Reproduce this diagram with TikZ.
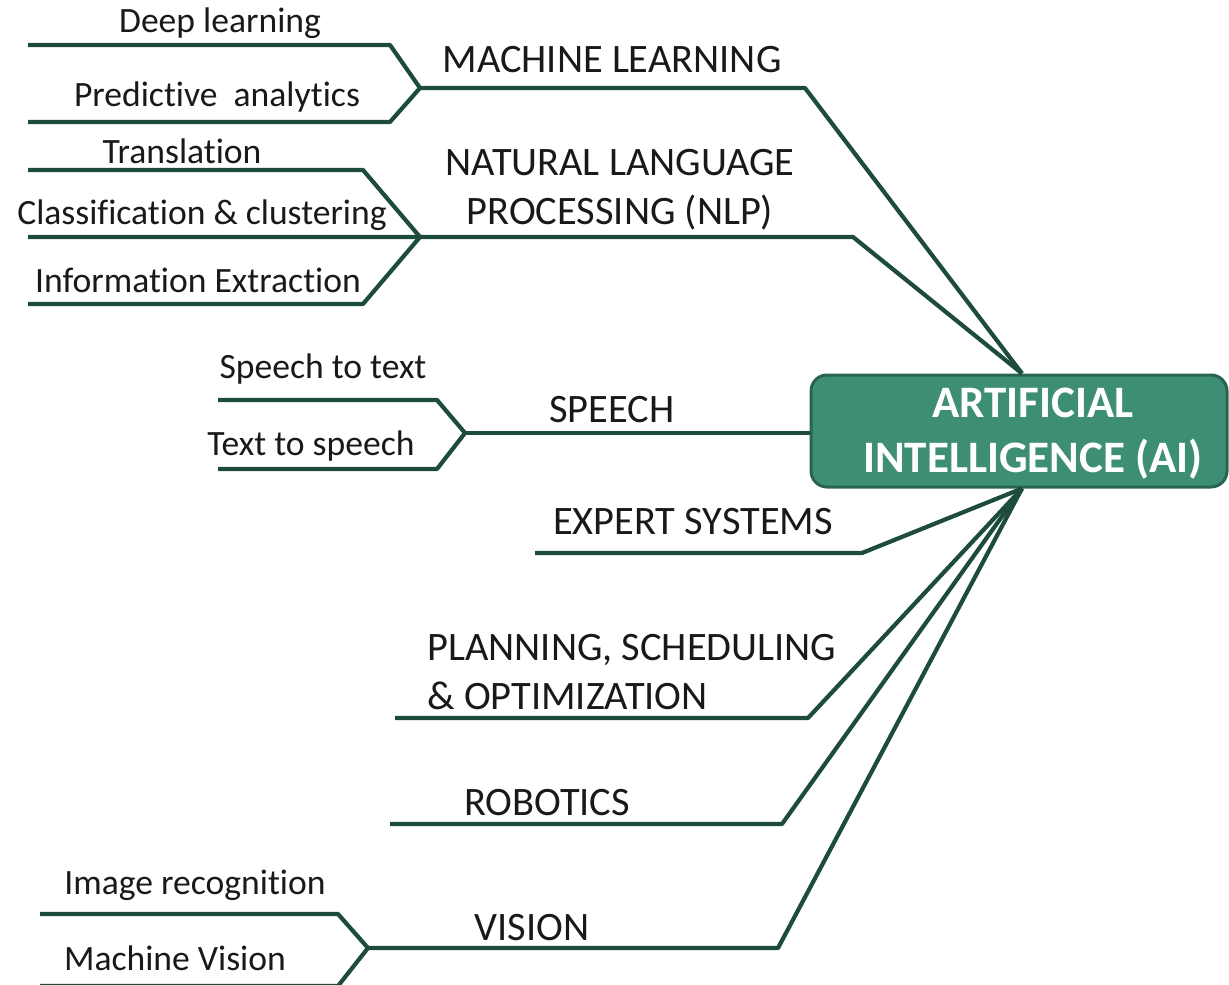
\documentclass[tikz,border=0pt]{standalone}
\usepackage{fontspec}
\setmainfont{Carlito}[Ligatures=NoCommon]
\definecolor{branchgreen}{RGB}{30,76,58}
\definecolor{aifill}{RGB}{62,142,118}
\definecolor{aiedge}{RGB}{40,100,80}
\tikzset{
  branch/.style={draw=branchgreen,line width=2.1pt,line join=round},
  topic/.style={font=\fontsize{20.2}{24.5}\selectfont,text=black!90,align=center,inner sep=0pt},
  leaf/.style={font=\fontsize{17.8}{20}\selectfont,text=black!90,inner sep=0pt},
}
\begin{document}
\begin{tikzpicture}[x=0.5pt,y=-0.5pt]
\useasboundingbox (0,0) rectangle (1229,984);
\node[draw=aiedge,fill=aifill,line width=1.5pt,rounded corners=8pt,minimum width=208pt,minimum height=56pt] (ai) at (1019,431) {};
\node[text=white,font=\bfseries\fontsize{22.5}{27.5}\selectfont,align=center,inner sep=0pt] (aiText) at (1033,434) {ARTIFICIAL\\INTELLIGENCE (AI)};
\coordinate (hubN) at ([xshift=1.5pt]ai.north);
\coordinate (hubS) at ([xshift=1.5pt]ai.south);

% machine learning
\coordinate (mlBend) at (805,88);
\coordinate (mlFork) at (420,88);
\coordinate (dlEnd) at (28,45);
\coordinate (paEnd) at (28,122);
\draw[branch] (hubN) -- (mlBend) -- (mlFork);
\draw[branch] (dlEnd) -- (390,45) -- (mlFork) -- (390,122) -- (paEnd);
\node[topic] (ml) at (612,60) {MACHINE LEARNING};
\node[leaf] (dl) at (220,23) {Deep learning};
\node[leaf] (pa) at (217,97) {Predictive\ \ analytics};

% nlp
\coordinate (nlpBend) at (853,237);
\coordinate (nlpFork) at (420,237);
\coordinate (trEnd) at (28,170);
\coordinate (clEnd) at (28,237);
\coordinate (ieEnd) at (28,304);
\draw[branch] (hubN) -- (nlpBend) -- (nlpFork);
\draw[branch] (trEnd) -- (363,170) -- (nlpFork) -- (clEnd);
\draw[branch] (nlpFork) -- (363,304) -- (ieEnd);
\node[topic] (nlp) at (620,190) {NATURAL LANGUAGE\\PROCESSING (NLP)};
\node[leaf] (tr) at (182,151) {Translation};
\node[leaf] (cl) at (202,215) {Classification \& clustering};
\node[leaf] (ie) at (198,280) {Information Extraction};

% speech
\coordinate (spFork) at (465,433);
\coordinate (sttEnd) at (218,400);
\coordinate (ttsEnd) at (218,469);
\draw[branch] (ai.west |- spFork) -- (spFork);
\draw[branch] (sttEnd) -- (437,400) -- (spFork) -- (437,469) -- (ttsEnd);
\node[topic] (sp) at (612,410) {SPEECH};
\node[leaf] (stt) at (323,369) {Speech to text};
\node[leaf] (tts) at (311,446) {Text to speech};

% expert systems
\coordinate (esBend) at (862,553);
\coordinate (esEnd) at (535,553);
\draw[branch] (hubS) -- (esBend) -- (esEnd);
\node[topic] (es) at (693,522) {EXPERT SYSTEMS};

% planning
\coordinate (plBend) at (808,718);
\coordinate (plEnd) at (395,718);
\draw[branch] (hubS) -- (plBend) -- (plEnd);
\node[topic,align=left,anchor=north west] (pl) at (427,634) {PLANNING, SCHEDULING\\\& OPTIMIZATION};

% robotics
\coordinate (roBend) at (782,824);
\coordinate (roEnd) at (390,824);
\draw[branch] (hubS) -- (roBend) -- (roEnd);
\node[topic] (ro) at (547,803) {ROBOTICS};

% vision
\coordinate (viBend) at (778,948);
\coordinate (viFork) at (368,948);
\coordinate (irEnd) at (40,914);
\coordinate (mvEnd) at (40,986);
\draw[branch] (hubS) -- (viBend) -- (viFork);
\draw[branch] (irEnd) -- (338,914) -- (viFork) -- (338,986) -- (mvEnd);
\node[topic] (vi) at (532,928) {VISION};
\node[leaf] (ir) at (195,885) {Image recognition};
\node[leaf] (mv) at (175,958) {Machine Vision};
\end{tikzpicture}
\end{document}
